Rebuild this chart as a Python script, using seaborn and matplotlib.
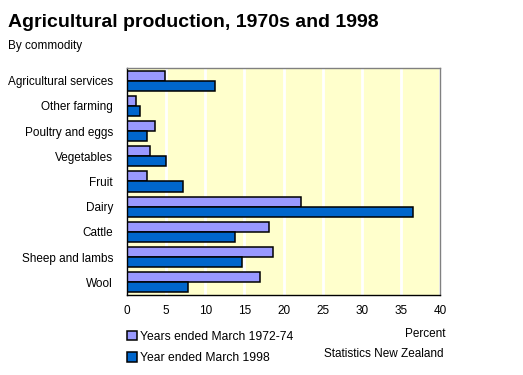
import pandas as pd
import seaborn as sns
import matplotlib.pyplot as plt

commodities = ["Agricultural services", "Other farming", "Poultry and eggs", "Vegetables",
               "Fruit", "Dairy", "Cattle", "Sheep and lambs", "Wool"]
early = [4.8, 1.1, 3.6, 3.0, 2.6, 22.2, 18.1, 18.7, 17.0]
late = [11.3, 1.6, 2.6, 5.0, 7.2, 36.5, 13.8, 14.7, 7.8]
series = ["Years ended March 1972-74", "Year ended March 1998"]
colors = ["#9999FF", "#0066CC"]

df = pd.DataFrame({
    "commodity": commodities * 2,
    "value": early + late,
    "period": [series[0]] * len(commodities) + [series[1]] * len(commodities),
})

sns.set_style("white")
plt.rcParams["font.family"] = ["Liberation Sans", "DejaVu Sans"]
plt.rcParams["text.color"] = "black"
plt.rcParams["xtick.color"] = "black"
plt.rcParams["ytick.color"] = "black"
plt.rcParams["axes.labelcolor"] = "black"

fig = plt.figure(figsize=(5.23, 3.75), dpi=100)
ax = fig.add_axes([127 / 523, 1 - 295 / 375, (440 - 127) / 523, (295 - 68) / 375])

sns.barplot(data=df, x="value", y="commodity", hue="period", order=commodities,
            hue_order=series, palette=colors, width=0.8, edgecolor="black",
            linewidth=1.1, saturation=1, ax=ax, legend=True)

ax.set_facecolor("#FFFFCC")
ax.set_xlim(0, 40)
ax.set_xticks(range(0, 41, 5))
ax.xaxis.grid(True, color="white", linewidth=2)
ax.set_axisbelow(True)
ax.set_xlabel("")
ax.set_ylabel("")
ax.tick_params(axis="x", length=4, width=1, direction="out", color="black", labelsize=8.5, pad=3)
ax.tick_params(axis="y", length=0, labelsize=8.5, pad=10)
for side in ["top", "right"]:
    ax.spines[side].set_color("#808080")
for side in ["left", "bottom"]:
    ax.spines[side].set_color("black")
for s in ax.spines.values():
    s.set_linewidth(1)

handles, labels = ax.get_legend_handles_labels()
ax.get_legend().remove()
fig.legend(handles, labels, loc="upper left", bbox_to_anchor=(121 / 523, 1 - 325 / 375),
           frameon=False, fontsize=8.7, handlelength=0.8, handleheight=0.8,
           handletextpad=0.3, labelspacing=0.75, borderpad=0)

fig.text(8 / 523, 1 - 27 / 375, "Agricultural production, 1970s and 1998",
         fontsize=14, fontweight="bold", ha="left", va="baseline")
fig.text(8 / 523, 1 - 49 / 375, "By commodity", fontsize=8.5, ha="left", va="baseline")
fig.text(445 / 523, 1 - 337 / 375, "Percent", fontsize=8.5, ha="right", va="baseline")
fig.text(444 / 523, 1 - 357 / 375, "Statistics New Zealand", fontsize=8.5, ha="right", va="baseline")

fig.savefig("out.png", dpi=100)
